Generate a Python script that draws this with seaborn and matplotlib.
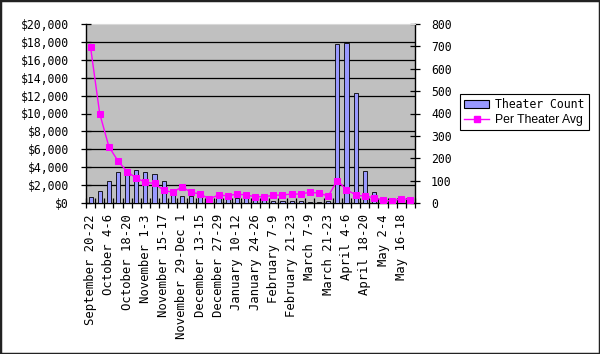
import numpy as np
import pandas as pd
import seaborn as sns
import matplotlib
matplotlib.use("Agg")
import matplotlib.pyplot as plt
from matplotlib.ticker import FixedLocator, MultipleLocator, StrMethodFormatter
from matplotlib.patches import Rectangle, Patch
from matplotlib.lines import Line2D

# weekends (every other one is labelled on the axis)
weeks = [
    "September 20-22", "September 27-29", "October 4-6", "October 11-13",
    "October 18-20", "October 25-27", "November 1-3", "November 8-10",
    "November 15-17", "November 22-24", "November 29-Dec 1", "December 6-8",
    "December 13-15", "December 20-22", "December 27-29", "January 3-5",
    "January 10-12", "January 17-19", "January 24-26", "January 31-Feb 2",
    "February 7-9", "February 14-16", "February 21-23", "February 28-Mar 2",
    "March 7-9", "March 14-16", "March 21-23", "March 28-30",
    "April 4-6", "April 11-13", "April 18-20", "April 25-27",
    "May 2-4", "May 9-11", "May 16-18", "May 23-25",
]

theater_count = [25, 54, 98, 140, 140, 147, 137, 128, 98, 38, 33, 31,
                 34, 30, 24, 24, 24, 22, 17, 15, 9, 9, 8, 9,
                 6, 5, 8, 711, 717, 493, 143, 48, 5, 4, 4, 3]

per_theater_avg = [17400, 10000, 6300, 4700, 3500, 2800, 2300, 2200, 1400, 1200, 1800, 1200,
                   1000, 450, 900, 800, 1000, 900, 700, 700, 860, 900, 1000, 1000,
                   1200, 1100, 780, 2500, 1500, 900, 750, 600, 300, 220, 480, 370]

df = pd.DataFrame({"week": weeks, "count": theater_count, "avg": per_theater_avg})
df["pos"] = np.arange(len(df))

mono = "DejaVu Sans Mono"
fs = 8.3
bar_color = "#9999FF"
line_color = "#FF00FF"

fig = plt.figure(figsize=(6.0, 3.54), dpi=100)
ax = fig.add_axes([86 / 600, 1 - 203 / 354, 329 / 600, 179 / 354])
ax.set_facecolor("#C0C0C0")

# bars: theater count on the right-hand axis
sns.barplot(data=df, x="week", y="count", ax=ax, color=bar_color, saturation=1,
            edgecolor="black", linewidth=0.6, width=0.45, zorder=3)
ax.set_ylim(0, 800)
ax.set_xlim(-0.5, len(df) - 0.5)

# line: per theater average on the left-hand axis (drawn above the bars)
ax2 = ax.twinx()
sns.lineplot(data=df, x="pos", y="avg", ax=ax2, color=line_color, linewidth=1,
             marker="s", markersize=4.5, markeredgecolor=line_color, zorder=5)
ax2.set_ylim(0, 20000)
ax2.set_xlim(-0.5, len(df) - 0.5)

# swap sides: bar axis on the right, dollar axis on the left
ax.yaxis.tick_right()
ax2.yaxis.tick_left()

ax.yaxis.set_major_locator(MultipleLocator(100))
ax.yaxis.set_minor_locator(MultipleLocator(80))
ax.grid(axis="y", which="minor", color="black", linewidth=0.9, zorder=0)
ax.grid(axis="y", which="major", visible=False)
ax.set_axisbelow(True)
ax.tick_params(axis="y", which="minor", length=0, left=False, right=False)
ax.tick_params(axis="y", which="major", direction="inout", length=7, width=0.9,
               labelsize=fs, pad=8, left=False, labelleft=False,
               right=True, labelright=True)
for t in ax.get_yticklabels():
    t.set_family(mono)

ax2.yaxis.set_major_locator(MultipleLocator(2000))
ax2.yaxis.set_major_formatter(StrMethodFormatter("${x:,.0f}"))
ax2.tick_params(axis="y", direction="inout", length=7, width=0.9, labelsize=fs, pad=9,
                left=True, labelleft=True, right=False, labelright=False)
for t in ax2.get_yticklabels():
    t.set_family(mono)
ax2.set_xlabel("")
ax2.set_ylabel("")
for s in ax2.spines.values():
    s.set_visible(False)

# x axis: labels on every other weekend, ticks between categories
ax.xaxis.set_major_locator(FixedLocator(df["pos"].tolist()))
ax.set_xticklabels([w if i % 2 == 0 else "" for i, w in enumerate(weeks)],
                   rotation=90, fontsize=8.8, family=mono)
ax.tick_params(axis="x", which="major", length=0, pad=8)
ax.xaxis.set_minor_locator(FixedLocator(np.arange(-0.5, len(df), 1.0)))
ax.tick_params(axis="x", which="minor", direction="inout", length=7, width=0.9)
ax.set_xlabel("")
ax.set_ylabel("")

for side in ["left", "bottom", "right"]:
    ax.spines[side].set_color("black")
    ax.spines[side].set_linewidth(1.0)
ax.spines["top"].set_color("#D8D8D8")

handles = [Patch(facecolor=bar_color, edgecolor="black", linewidth=0.8),
           Line2D([0], [0], color=line_color, marker="s", markersize=4.5, linewidth=1)]
leg = fig.legend(handles, ["Theater Count", "Per Theater Avg"],
                 loc="upper left", bbox_to_anchor=(460 / 600, 1 - 94 / 354),
                 frameon=True, fancybox=False, edgecolor="black", framealpha=1,
                 fontsize=fs, handlelength=2.2, handletextpad=0.5,
                 borderpad=0.35, labelspacing=0.25, borderaxespad=0)
leg.get_frame().set_linewidth(0.8)
leg.get_texts()[0].set_family(mono)
leg.get_texts()[1].set_family("Liberation Sans")
leg.get_texts()[1].set_fontsize(8.8)

fig.patches.append(Rectangle((0, 0), 1, 1, transform=fig.transFigure, fill=False,
                             edgecolor="#222222", linewidth=2.5))

fig.savefig("out.png", dpi=100)
